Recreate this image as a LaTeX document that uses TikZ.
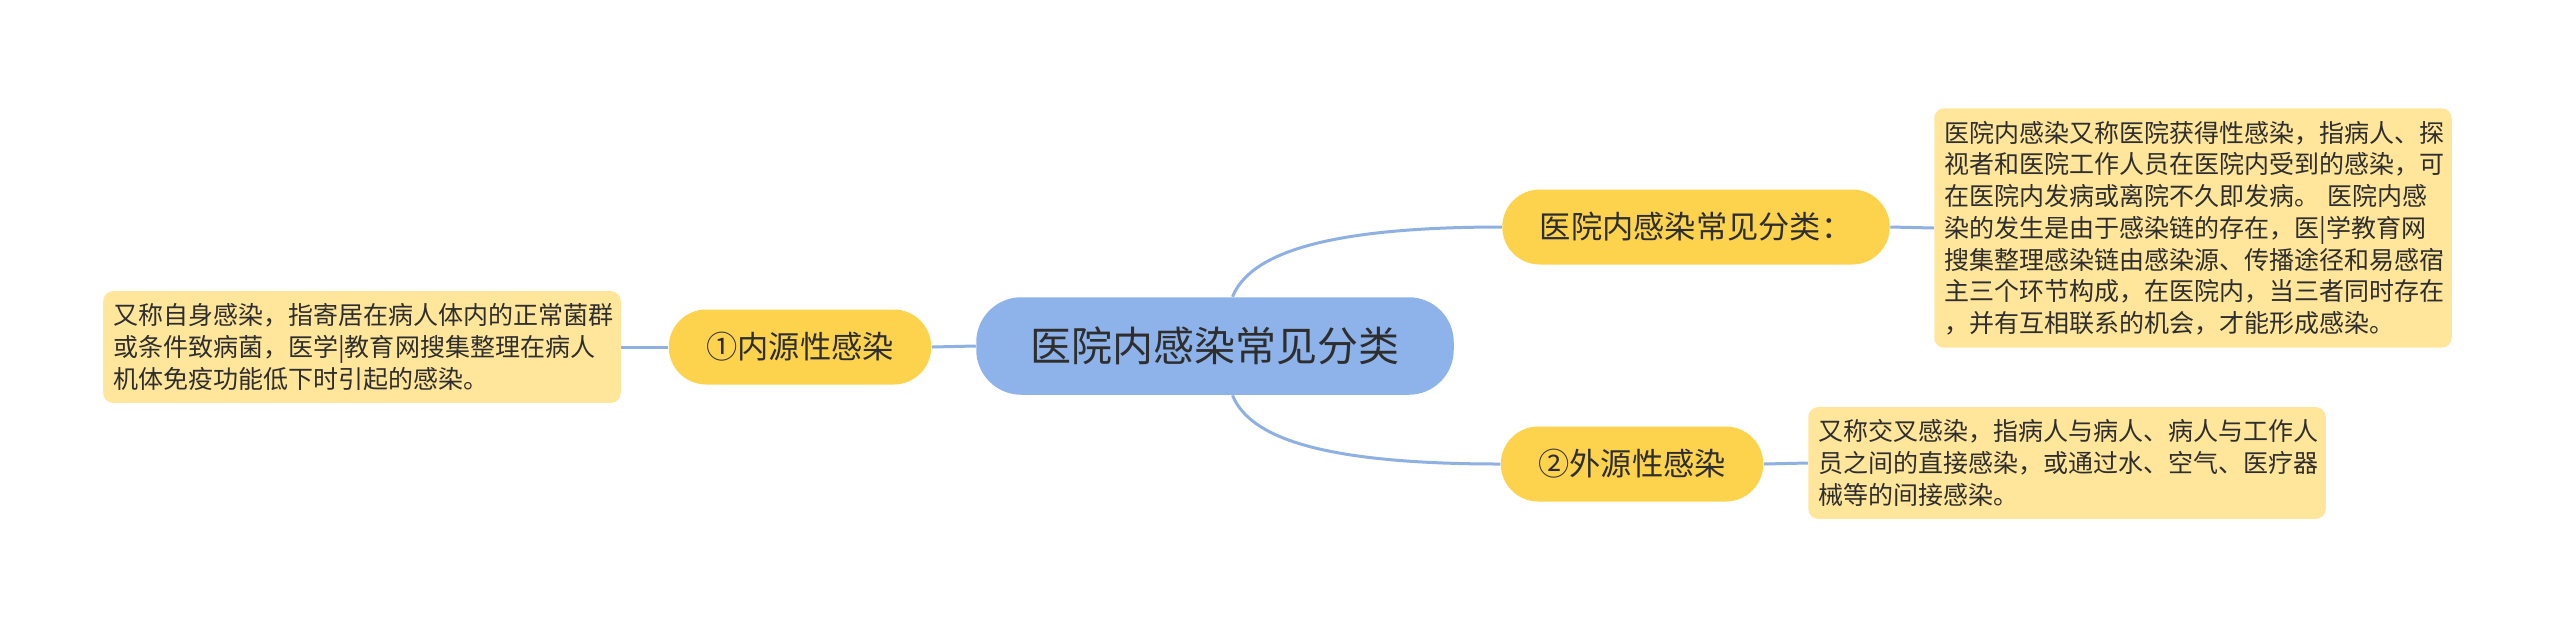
\documentclass[tikz,border=0pt]{standalone}
\usepackage{fontspec}
\setmainfont{Noto Sans CJK SC}
\usepackage{xcolor}
\definecolor{rootblue}{HTML}{8EB2EA}
\definecolor{branchyellow}{HTML}{FDD34E}
\definecolor{leafyellow}{HTML}{FFE69B}
\definecolor{linkblue}{HTML}{8FB0E3}
\definecolor{inkgray}{HTML}{2E2E2E}
\tikzset{
  root/.style={fill=rootblue, rounded corners=18pt, minimum height=39pt, minimum width=191pt, text=inkgray, font=\fontsize{16.4pt}{19pt}\selectfont},
  branch/.style={fill=branchyellow, rounded corners=15pt, minimum height=30pt, inner xsep=15pt, text=inkgray, font=\fontsize{12.5pt}{15pt}\selectfont},
  leaf/.style={fill=leafyellow, rounded corners=4pt, inner xsep=4pt, inner ysep=5pt, align=left, text width=199pt, text=inkgray, font=\fontsize{10pt}{12.7pt}\selectfont},
  link/.style={draw=linkblue, line width=1.2pt}
}

\begin{document}
\begin{tikzpicture}[x=0.4pt, y=-0.4pt]
    \useasboundingbox (0,0) rectangle (2560,629);
    % centre and first level
    \node[root] (root) at (1215,346) {医院内感染常见分类};
    \node[branch] (common) at (1696,227) {医院内感染常见分类：};
    \node[branch] (inner) at (800,347) {①内源性感染};
    \node[branch] (outer) at (1632,464) {②外源性感染};
    % notes
    \node[leaf] (commonnote) at (2193,228) {医院内感染又称医院获得性感染，指病人、探\\
视者和医院工作人员在医院内受到的感染，可\\
在医院内发病或离院不久即发病。 医院内感\\
染的发生是由于感染链的存在，医|学教育网\\
搜集整理感染链由感染源、传播途径和易感宿\\
主三个环节构成，在医院内，当三者同时存在\\
，并有互相联系的机会，才能形成感染。};
    \node[leaf] (innernote) at (362,347) {又称自身感染，指寄居在病人体内的正常菌群\\
或条件致病菌，医学|教育网搜集整理在病人\\
机体免疫功能低下时引起的感染。};
    \node[leaf] (outernote) at (2067,463) {又称交叉感染，指病人与病人、病人与工作人\\
员之间的直接感染，或通过水、空气、医疗器\\
械等的间接感染。};
    % connectors
    \draw[link] ([xshift=7pt]root.north) .. controls +(17,-42) and +(-180,0) .. (common.west);
    \draw[link] ([xshift=7pt]root.south) .. controls +(17,42) and +(-180,0) .. (outer.west);
    \draw[link] (root.west) -- (inner.east);
    \draw[link] (inner.west) -- (innernote.east);
    \draw[link] (common.east) -- (commonnote.west);
    \draw[link] (outer.east) -- (outernote.west);
\end{tikzpicture}
\end{document}
